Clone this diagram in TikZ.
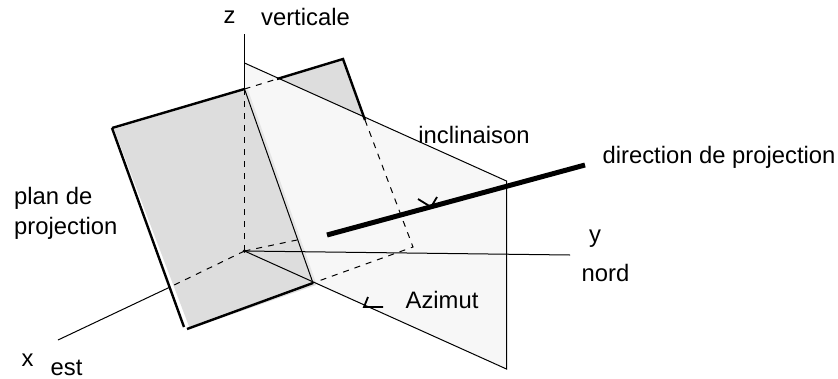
\documentclass[tikz,border=0pt]{standalone}
\usepackage{fontspec}
\setmainfont{Liberation Sans}
\tikzset{
  lbl/.style={font=\fontsize{23.8}{30}\selectfont,inner sep=0pt},
  thinln/.style={line width=1pt},
  boldln/.style={line width=2.4pt},
  dashln/.style={line width=1pt,dash pattern=on 6pt off 6pt}
}
\begin{document}
\begin{tikzpicture}[x=1pt,y=-1pt]
    \definecolor{planA}{HTML}{DDDDDD}
    \definecolor{planB}{HTML}{F7F7F7}
    \useasboundingbox (0,0) rectangle (838,378);
    \fill[planA] (114,129) -- (343,60) -- (366,122) -- (316,285) -- (190,329) -- cycle;
    \fill[planB] (244.5,63) -- (506.5,181) -- (506.5,369) -- (313,283) -- (244.5,89) -- cycle;
    \fill[planA!70!planB] (244.5,89) -- (248,90) -- (316,283) -- (313,283) -- cycle;
    \coordinate (orig) at (244.5,251);
    \coordinate (kink) at (244.5,89);
    \coordinate (foot) at (313,283);
    \coordinate (far) at (413,247);
    \coordinate (edge) at (365,120);
    \draw[thinln] (244.5,34) -- (kink);
    \draw[thinln] (244.5,63) -- (506.5,181) -- (506.5,369) -- (orig);
    \draw[thinln] (kink) -- (foot);
    \draw[thinln] (orig) -- (570,255);
    \draw[thinln] (168,288) -- (58,340);
    \draw[dashln] (kink) -- (orig);
    \draw[dashln] (kink) -- (277,79);
    \draw[dashln] (edge) -- (far) -- (foot);
    \draw[dashln] (orig) -- (297,240);
    \draw[dashln] (orig) -- (168,288);
    \fill (orig) circle (1.8pt);
    \draw[boldln] (112,128) -- (kink);
    \draw[boldln] (277,79) -- (343,59) -- (edge);
    \draw[boldln] (112,128) -- (184,327);
    \draw[boldln] (187,329) -- (foot);
    \draw[line width=5pt] (327,235) -- (585,165);
    \draw[line width=1.8pt] (418,199) -- (431,207) -- (437,197);
    \draw[line width=1.8pt] (368,297) -- (364,307) -- (383,307);
    \node[lbl] (zlab) at (229.5,17.5) {z};
    \node[lbl] (vertlab) at (305.5,17) {verticale};
    \node[lbl] (inclab) at (474,135) {inclinaison};
    \node[lbl] (dirlab) at (719,157) {direction de projection};
    \node[lbl,align=left,anchor=west] (planlab) at (14,213) {plan de\\projection};
    \node[lbl] (ylab) at (595,239) {y};
    \node[lbl] (nordlab) at (605.5,273) {nord};
    \node[lbl] (azlab) at (442,300) {Azimut};
    \node[lbl] (xlab) at (27.5,360) {x};
    \node[lbl] (estlab) at (66.5,368) {est};
\end{tikzpicture}
\end{document}
